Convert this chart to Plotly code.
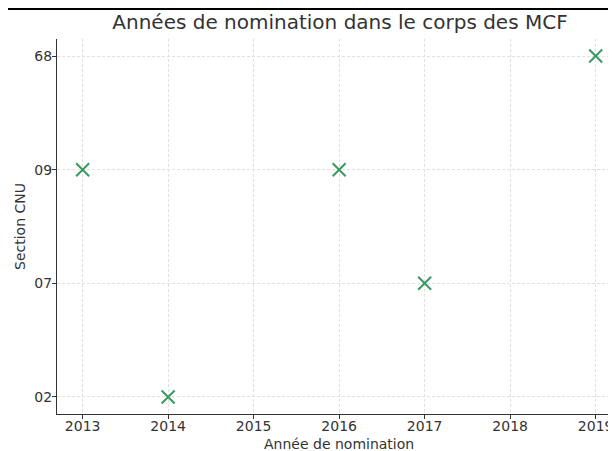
import plotly.graph_objects as go

# Données
annees = [2013, 2014, 2016, 2017, 2019]
sections = ["09", "02", "09", "07", "68"]
ordre_sections = ["02", "07", "09", "68"]
annees_ticks = [2013, 2014, 2015, 2016, 2017, 2018, 2019]

# la page html garde une marge de 8px : on décale tout de -8px
OFF = 8
W, H = 616 - OFF, 451 - OFF
L, R, T, B = 57 - OFF, 0, 39 - OFF, 37
pw, ph = W - L - R, H - T - B


def px_x(x):
    return (x - OFF - L) / pw


def px_y(y):
    return (H - B - (y - OFF)) / ph


fig = go.Figure()
fig.add_trace(go.Scatter(
    x=annees, y=sections, mode="markers",
    marker=dict(symbol="x-thin", size=13, color="#3a9a62",
                line=dict(width=2, color="#3a9a62")),
    showlegend=False,
))

axis_common = dict(
    showgrid=True, gridcolor="#e0e0e0", griddash="3px,2px", gridwidth=1,
    showline=True, linecolor="#333333", linewidth=1.3,
    ticks="outside", ticklen=4, tickcolor="#333333",
    tickfont=dict(size=14, color="#333333"),
    zeroline=False, automargin=False,
)

fig.update_layout(
    width=W, height=H,
    margin=dict(l=L, r=R, t=T, b=B, autoexpand=False),
    paper_bgcolor="white", plot_bgcolor="white",
    font=dict(family="DejaVu Sans", color="#333333"),
    title=dict(text="Années de nomination dans le corps des MCF",
               x=px_x(340), xref="paper", xanchor="center",
               y=1 - (22 - OFF) / H, yanchor="middle", automargin=False,
               font=dict(size=20, color="#333333")),
    xaxis=dict(axis_common, range=[2012.7, 2012.7 + pw / 85.5],
               tickvals=annees_ticks, ticklabelstandoff=-5,
               ticklabeloverflow="allow"),
    yaxis=dict(axis_common, type="category", categoryorder="array",
               categoryarray=ordre_sections, range=[-0.15, 3.15],
               ticklabelstandoff=-3),
)

# titres des axes
fig.add_annotation(text="Année de nomination", xref="paper", yref="paper",
                   x=px_x(339), y=px_y(444), showarrow=False,
                   xanchor="center", yanchor="middle", font=dict(size=14))
fig.add_annotation(text="Section CNU", xref="paper", yref="paper",
                   x=px_x(20), y=px_y(227), showarrow=False, textangle=-90,
                   xanchor="center", yanchor="middle", font=dict(size=14))

# trait résiduel en haut de l'image
fig.add_shape(type="line", xref="paper", yref="paper",
              x0=px_x(OFF), x1=px_x(616), y0=px_y(OFF + 1), y1=px_y(OFF + 1),
              line=dict(color="black", width=2))
fig.add_shape(type="line", xref="paper", yref="paper",
              x0=px_x(190), x1=px_x(190), y0=px_y(OFF), y1=px_y(OFF + 2),
              line=dict(color="black", width=2))

fig.write_html("out.html")
